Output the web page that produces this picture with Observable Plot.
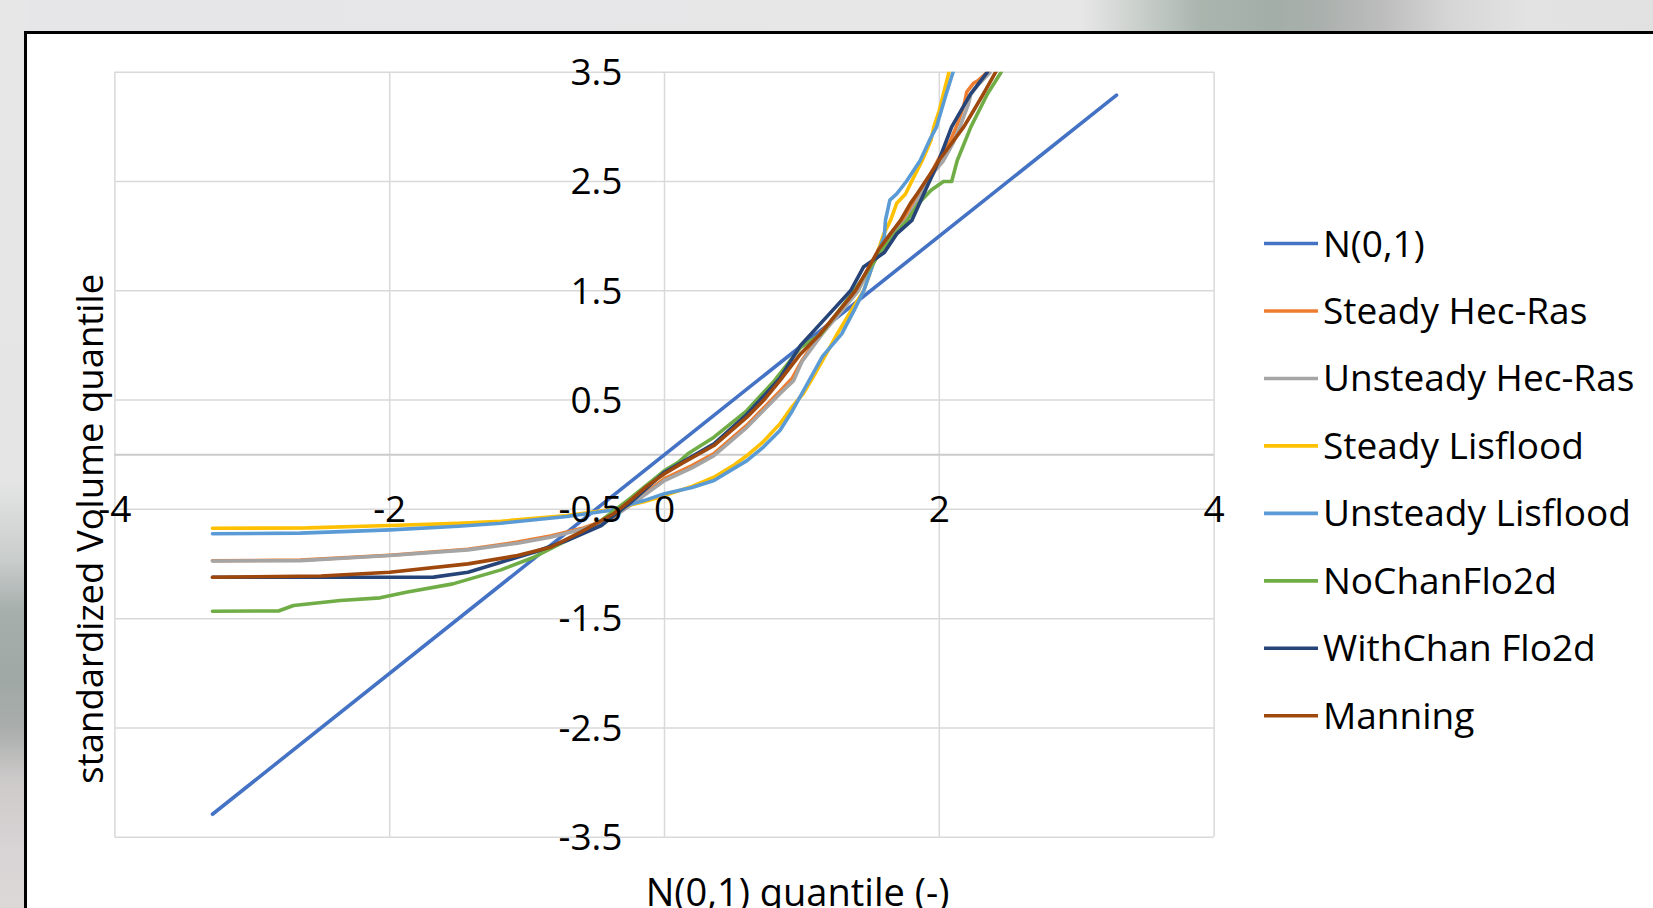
<!DOCTYPE html>
<html>
<head>
<meta charset="utf-8">
<script src="https://cdn.jsdelivr.net/npm/d3@7"></script>
<script src="https://cdn.jsdelivr.net/npm/@observablehq/plot@0.6"></script>
<style>
html, body { margin: 0; padding: 0; width: 1653px; height: 908px; overflow: hidden; background: #e6e6e6; }
#topstrip { position: absolute; left: 0; top: 0; width: 1653px; height: 36px;
  background: linear-gradient(to right, #e6e5e7 0px, #e8e7e8 1080px, #c9cfcb 1140px, #aab5ae 1200px, #a3aea8 1270px, #aab0ad 1320px, #bcbcbc 1380px, #d6d6d6 1450px, #e3e3e3 1530px, #e1e1e1 1653px); }
#leftstrip { position: absolute; left: 0; top: 0; width: 27px; height: 908px;
  background: linear-gradient(to bottom, #e7e7e7 0px, #e5e5e5 480px, #c9cdcc 560px, #a7afad 610px, #a0a8a6 680px, #aaaeac 730px, #cdcaca 780px, #d8d4d5 850px, #dcd8d8 908px); }
#box { position: absolute; left: 24px; top: 31px; width: 1700px; height: 1000px; background: #ffffff;
  border-left: 3px solid #000; border-top: 3px solid #000; box-sizing: border-box; }
#chart { position: absolute; left: 0; top: 0; }
#legend { position: absolute; left: 0; top: 0; }
</style>
</head>
<body>
<div id="topstrip"></div>
<div id="leftstrip"></div>
<div id="box"></div>
<div id="chart"></div>
<svg id="legend" width="1653" height="908"></svg>
<script>
// ---------- data ----------
const seriesNames = ["N(0,1)", "Steady Hec-Ras", "Unsteady Hec-Ras", "Steady Lisflood", "Unsteady Lisflood", "NoChanFlo2d", "WithChan Flo2d", "Manning"];
const seriesColors = ["#4472C4", "#ED7D31", "#A5A5A5", "#FFC000", "#5B9BD5", "#70AD47", "#264478", "#9E480E"];
const xTicks = [-4, -2, 0, 2, 4];
const yTicks = [3.5, 2.5, 1.5, 0.5, -0.5, -1.5, -2.5, -3.5];

const n01X = [-3.29, 3.29];
const n01Y = [-3.29, 3.29];

const steadyHecX = [-3.29, -2.65, -2.0, -1.43, -1.07, -0.83, -0.59, -0.39, -0.2, 0, 0.2, 0.36, 0.6, 0.84, 0.93, 1.0, 1.14, 1.27, 1.40, 1.49, 1.57, 1.65, 1.74, 1.82, 1.89, 1.96, 2.0, 2.08, 2.13, 2.18, 2.2, 2.25, 2.28, 2.35, 2.38];
const steadyHecY = [-0.97, -0.965, -0.92, -0.865, -0.80, -0.745, -0.67, -0.58, -0.41, -0.22, -0.10, 0.01, 0.27, 0.58, 0.70, 0.86, 1.12, 1.31, 1.5, 1.72, 1.89, 2.03, 2.16, 2.32, 2.47, 2.62, 2.72, 2.87, 3.02, 3.2, 3.32, 3.40, 3.42, 3.5, 3.6];

const unsteadyHecX = [-3.29, -2.65, -2.0, -1.43, -1.07, -0.83, -0.59, -0.39, -0.2, 0, 0.2, 0.36, 0.6, 0.84, 0.94, 1.0, 1.148, 1.28, 1.41, 1.50, 1.58, 1.66, 1.76, 1.83, 1.9, 1.97, 2.03, 2.1, 2.15, 2.21, 2.23, 2.28, 2.37, 2.4];
const unsteadyHecY = [-0.972, -0.969, -0.923, -0.871, -0.81, -0.755, -0.679, -0.587, -0.42, -0.236, -0.12, -0.008, 0.251, 0.557, 0.678, 0.85, 1.105, 1.3, 1.5, 1.72, 1.88, 2.02, 2.144, 2.30, 2.45, 2.6, 2.69, 2.85, 3.0, 3.2, 3.3, 3.38, 3.5, 3.6];

const steadyLisX = [-3.29, -2.6, -2.0, -1.5, -1.19, -0.71, -0.4, -0.15, 0, 0.2, 0.36, 0.5, 0.6, 0.72, 0.84, 0.93, 1.01, 1.1, 1.18, 1.257, 1.35, 1.45, 1.51, 1.55, 1.596, 1.645, 1.69, 1.754, 1.81, 1.875, 1.94, 1.96, 2.0, 2.03, 2.07, 2.09];
const steadyLisY = [-0.673, -0.670, -0.648, -0.628, -0.609, -0.557, -0.505, -0.43, -0.374, -0.29, -0.206, -0.10, -0.008, 0.12, 0.282, 0.44, 0.56, 0.75, 0.93, 1.105, 1.3, 1.5, 1.715, 1.85, 2.02, 2.144, 2.3, 2.386, 2.53, 2.69, 2.88, 3.0, 3.15, 3.3, 3.5, 3.6];

const unsteadyLisX = [-3.29, -2.65, -2.0, -1.5, -1.19, -0.71, -0.4, -0.15, 0, 0.2, 0.36, 0.5, 0.6, 0.72, 0.84, 0.93, 1.04, 1.15, 1.29, 1.38, 1.45, 1.52, 1.56, 1.6, 1.608, 1.64, 1.69, 1.76, 1.86, 1.93, 1.98, 2.05, 2.10, 2.12];
const unsteadyLisY = [-0.724, -0.718, -0.688, -0.655, -0.627, -0.566, -0.51, -0.42, -0.358, -0.30, -0.236, -0.13, -0.054, 0.07, 0.221, 0.40, 0.65, 0.90, 1.105, 1.32, 1.5, 1.75, 1.868, 2.0, 2.144, 2.33, 2.386, 2.5, 2.69, 2.88, 3.0, 3.3, 3.5, 3.6];

const noChanX = [-3.29, -2.81, -2.7, -2.36, -2.07, -1.88, -1.54, -1.19, -0.95, -0.71, -0.46, -0.25, 0, 0.1, 0.17, 0.36, 0.6, 0.8, 0.99, 1.14, 1.38, 1.5, 1.6, 1.7, 1.766, 1.85, 1.94, 2.03, 2.09, 2.13, 2.23, 2.35, 2.45, 2.48];
const noChanY = [-1.432, -1.43, -1.38, -1.334, -1.31, -1.258, -1.182, -1.054, -0.938, -0.785, -0.602, -0.40, -0.145, -0.07, 0.008, 0.16, 0.404, 0.678, 0.98, 1.105, 1.5, 1.72, 1.9, 2.05, 2.144, 2.3, 2.42, 2.5, 2.5, 2.69, 3.0, 3.3, 3.5, 3.6];

const withChanX = [-3.29, -1.68, -1.43, -1.19, -0.95, -0.71, -0.46, -0.25, 0, 0.36, 0.6, 0.84, 0.99, 1.15, 1.354, 1.45, 1.6, 1.69, 1.80, 1.887, 1.996, 2.09, 2.227, 2.35, 2.39];
const withChanY = [-1.121, -1.12, -1.075, -0.984, -0.892, -0.785, -0.648, -0.44, -0.16, 0.10, 0.37, 0.70, 1.0, 1.22, 1.5, 1.72, 1.85, 2.02, 2.144, 2.386, 2.69, 3.0, 3.3, 3.5, 3.6];

const manningX = [-3.29, -2.5, -2.0, -1.43, -1.07, -0.83, -0.61, -0.37, -0.25, -0.13, 0, 0.12, 0.36, 0.6, 0.72, 0.84, 0.99, 1.134, 1.26, 1.389, 1.487, 1.56, 1.644, 1.718, 1.79, 1.838, 1.92, 1.996, 2.09, 2.178, 2.25, 2.32, 2.41, 2.45];
const manningY = [-1.121, -1.11, -1.075, -0.999, -0.923, -0.847, -0.709, -0.54, -0.42, -0.29, -0.175, -0.084, 0.084, 0.343, 0.495, 0.678, 0.922, 1.105, 1.3, 1.5, 1.715, 1.88, 2.02, 2.144, 2.3, 2.386, 2.54, 2.69, 2.85, 3.0, 3.15, 3.3, 3.5, 3.6];

const seriesX = [n01X, steadyHecX, unsteadyHecX, steadyLisX, unsteadyLisX, noChanX, withChanX, manningX];
const seriesY = [n01Y, steadyHecY, unsteadyHecY, steadyLisY, unsteadyLisY, noChanY, withChanY, manningY];

const xTitle = "N(0,1) quantile (-)";
const yTitle = "standardized Volume quantile";

// ---------- chart ----------
const FONT = "'Open Sans', 'Noto Sans', sans-serif";
const FS_TICK = 37;
const FS_TITLE = 38;
const FS_YTITLE = 36.5;
const FS_LEG = 37;

const lineMarks = seriesNames.map((name, i) => {
  const rows = seriesX[i].map((x, j) => ({x, y: seriesY[i][j], s: name}));
  return Plot.line(rows, {x: "x", y: "y", stroke: seriesColors[i], strokeWidth: 3.6, strokeLinejoin: "round", clip: true});
});

const chart = Plot.plot({
  width: 1653,
  height: 908,
  marginLeft: 114.4,
  marginRight: 439.4,
  marginTop: 71.7,
  marginBottom: 71.3,
  x: {domain: [-4, 4], axis: null},
  y: {domain: [-3.5, 3.5], axis: null},
  style: {background: "transparent", fontFamily: FONT, color: "#000", overflow: "visible"},
  marks: [
    Plot.ruleX(xTicks, {x: d => d, stroke: "#d9d9d9", strokeWidth: 1.5}),
    Plot.ruleY(yTicks, {y: d => d, stroke: "#d9d9d9", strokeWidth: 1.5}),
    Plot.ruleY([0], {y: d => d, stroke: "#cbcbcb", strokeWidth: 2}),
    ...lineMarks,
    Plot.text(yTicks, {x: 0, y: d => d, text: d => String(d), textAnchor: "end", lineAnchor: "middle", dx: -42, dy: 1, fontSize: FS_TICK, fill: "#000"}),
    Plot.text(xTicks, {x: d => d, y: -0.5, text: d => String(d), textAnchor: "middle", lineAnchor: "middle", dy: 1, fontSize: FS_TICK, fill: "#000"}),
    Plot.text([xTitle], {frameAnchor: "bottom", text: d => d, textAnchor: "middle", lineAnchor: "bottom", dx: 133, dy: 69, fontSize: FS_TITLE, fill: "#000"}),
    Plot.text([yTitle], {frameAnchor: "left", text: d => d, rotate: -90, textAnchor: "middle", lineAnchor: "middle", dx: -24, dy: 74, fontSize: FS_YTITLE, fill: "#000"})
  ]
});
document.getElementById("chart").appendChild(chart);

// ---------- legend ----------
const lg = d3.select("#legend");
const y0 = 243.5, step = 67.47;
seriesNames.forEach((name, i) => {
  const cy = y0 + i * step;
  lg.append("line").attr("x1", 1264).attr("x2", 1318).attr("y1", cy).attr("y2", cy)
    .attr("stroke", seriesColors[i]).attr("stroke-width", 3.6);
  lg.append("text").attr("x", 1323).attr("y", cy + 13)
    .attr("font-family", FONT).attr("font-size", FS_LEG).attr("fill", "#000").text(name);
});
</script>
</body>
</html>
